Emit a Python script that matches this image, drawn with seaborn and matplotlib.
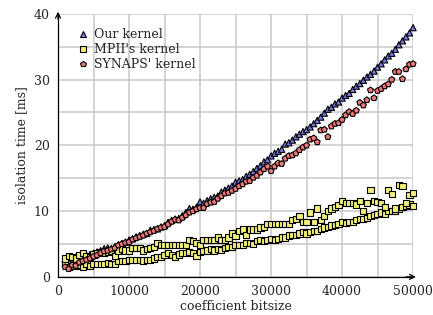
import numpy as np
import pandas as pd
import matplotlib
matplotlib.use("Agg")
import matplotlib.pyplot as plt
import seaborn as sns

# ---------------------- data ----------------------
bitsize = list(range(1000, 50001, 500))

our_kernel = [
    2.7, 2.5, 2.9, 3.0, 3.2, 3.1, 3.3, 3.4, 3.6, 3.8,
    4.0, 4.3, 4.4, 4.3, 4.6, 4.9, 5.1, 5.3, 5.6, 5.8,
    6.1, 6.3, 6.5, 6.6, 7.1, 7.2, 7.3, 7.6, 7.8, 8.3,
    8.6, 8.8, 8.9, 9.3, 9.8, 10.4, 10.3, 10.6, 11.4, 11.2,
    11.6, 11.9, 12.1, 12.3, 12.9, 13.2, 13.5, 13.8, 14.4, 14.6,
    14.8, 15.3, 15.6, 16.0, 16.5, 16.9, 17.5, 17.8, 18.4, 18.8,
    19.1, 19.4, 20.2, 20.4, 20.8, 21.3, 21.7, 22.1, 22.4, 22.8,
    23.3, 23.8, 24.3, 24.9, 25.5, 25.8, 26.3, 26.6, 27.2, 27.6,
    27.9, 28.5, 29.0, 29.4, 29.9, 30.4, 30.8, 31.3, 31.9, 32.4,
    33.0, 33.6, 34.0, 34.6, 35.3, 35.9, 36.5, 37.1, 37.9,
]

synaps_kernel = [
    1.5, 1.2, 1.8, 1.7, 2.2, 2.4, 2.6, 2.8, 3.1, 3.3,
    3.6, 3.9, 4.0, 4.2, 4.4, 4.8, 5.0, 5.2, 5.3, 5.7,
    5.9, 6.1, 6.3, 6.6, 6.8, 7.0, 7.3, 7.5, 7.6, 8.0,
    8.4, 8.7, 8.6, 9.0, 9.4, 9.8, 10.0, 10.3, 10.5, 10.5,
    11.1, 11.3, 11.4, 11.9, 12.3, 12.7, 12.8, 13.1, 13.4, 13.8,
    14.1, 14.5, 14.6, 15.1, 15.4, 15.9, 16.4, 16.8, 16.1, 16.8,
    17.3, 17.2, 18.0, 18.4, 18.5, 18.8, 19.3, 19.7, 20.0, 20.9,
    21.1, 20.5, 22.3, 22.4, 21.3, 22.9, 23.3, 23.4, 23.9, 24.6,
    25.1, 24.8, 25.3, 26.5, 26.1, 26.9, 28.4, 27.2, 28.3, 28.6,
    29.0, 29.3, 30.0, 31.2, 31.2, 30.1, 31.6, 32.3, 32.4,
]

# MPIR shows two interleaved tracks
mpir_low = [
    2.0, 1.5, 1.6, 1.7, 1.8, 1.5, 1.9, 1.6, 2.0, 2.0,
    2.0, 2.0, 2.1, 2.0, 2.0, 2.4, 2.4, 2.4, 2.6, 2.6,
    2.6, 2.6, 2.5, 2.6, 2.6, 2.8, 3.0, 3.0, 3.3, 3.6,
    3.3, 3.0, 3.4, 3.6, 3.6, 3.8, 3.6, 3.2, 3.8, 4.0,
    4.0, 4.2, 4.0, 4.3, 4.1, 4.4, 4.5, 4.6, 4.8, 4.8,
    4.9, 5.2, 5.1, 5.0, 5.4, 5.6, 5.4, 5.6, 5.8, 5.6,
    5.8, 6.0, 6.0, 6.3, 6.4, 6.4, 6.6, 6.8, 6.6, 6.8,
    7.0, 7.0, 7.3, 7.5, 7.6, 7.8, 7.9, 8.0, 8.3, 8.2,
    8.4, 8.4, 8.6, 8.8, 8.8, 9.0, 9.2, 9.4, 9.6, 9.8,
    9.6, 10.0, 10.0, 10.1, 10.4, 10.6, 10.8, 11.0, 10.8,
]

mpir_high = [
    2.8, 3.2, 3.0, 2.8, 3.3, 3.6, 3.2, 3.0, 3.4, 3.6,
    3.8, 3.7, 3.8, 3.9, 3.2, 4.0, 4.2, 4.0, 4.0, 4.4,
    4.4, 4.4, 4.0, 4.2, 4.4, 4.6, 5.2, 4.8, 4.8, 4.8,
    4.8, 4.8, 4.8, 4.8, 4.8, 5.6, 5.4, 5.2, 4.8, 5.6,
    5.6, 5.6, 5.6, 6.0, 5.6, 5.6, 6.0, 6.6, 6.2, 7.0,
    7.2, 6.4, 7.2, 7.2, 7.2, 7.5, 7.6, 8.0, 8.0, 8.0,
    8.0, 8.0, 8.0, 8.0, 8.6, 8.8, 9.2, 8.4, 8.4, 9.8,
    8.4, 10.4, 8.6, 9.2, 10.0, 10.4, 10.6, 10.9, 11.6, 11.2,
    11.2, 11.2, 11.0, 11.6, 10.0, 11.2, 13.2, 11.6, 11.4, 11.2,
    10.6, 13.2, 12.6, 10.4, 14.0, 13.8, 11.2, 12.4, 12.8,
]

labels = ["Our kernel", "MPII's kernel", "SYNAPS' kernel"]

df = pd.concat([
    pd.DataFrame({"bitsize": bitsize, "time": our_kernel, "kernel": labels[0]}),
    pd.DataFrame({"bitsize": bitsize + bitsize, "time": mpir_low + mpir_high, "kernel": labels[1]}),
    pd.DataFrame({"bitsize": bitsize, "time": synaps_kernel, "kernel": labels[2]}),
], ignore_index=True)

# ---------------------- plot ----------------------
sns.set_style("white")
plt.rcParams["font.family"] = ["DejaVu Serif"]

fig = plt.figure(figsize=(4.33, 3.15), dpi=100)
ax = fig.add_axes([0.134, 0.121, 0.82, 0.835])

palette = {labels[0]: "#7a7ae6", labels[1]: "#f2f07a", labels[2]: "#f07878"}
markers = {labels[0]: "^", labels[1]: "s", labels[2]: "p"}

sns.scatterplot(data=df, x="bitsize", y="time", hue="kernel", style="kernel",
                palette=palette, markers=markers, s=20, edgecolor="black",
                linewidth=0.8, ax=ax, zorder=3, clip_on=False)

ax.set_xlim(0, 50000)
ax.set_ylim(0, 40)
ax.set_xticks([0, 10000, 20000, 30000, 40000, 50000])
ax.set_yticks([0, 10, 20, 30, 40])
ax.set_xticks(np.arange(5000, 50000, 10000), minor=True)
ax.set_yticks([5, 15, 25, 35], minor=True)
ax.grid(True, which="both", color="#c8c8c8", linewidth=1.1)
ax.tick_params(which="both", length=0, labelsize=9, pad=6)

for side in ["top", "right"]:
    ax.spines[side].set_visible(False)
for side in ["left", "bottom"]:
    ax.spines[side].set_color("black")
    ax.spines[side].set_linewidth(0.9)

# arrow heads at the end of the axes
ax.annotate("", xy=(1.008, 0), xytext=(0.98, 0), xycoords="axes fraction",
            arrowprops=dict(arrowstyle="->", color="black", lw=0.9,
                            mutation_scale=9, shrinkA=0, shrinkB=0))
ax.annotate("", xy=(0, 1.008), xytext=(0, 0.98), xycoords="axes fraction",
            arrowprops=dict(arrowstyle="->", color="black", lw=0.9,
                            mutation_scale=9, shrinkA=0, shrinkB=0))

ax.set_xlabel("coefficient bitsize", fontsize=9, labelpad=1)
ax.set_ylabel("isolation time [ms]", fontsize=9, labelpad=4)

leg = ax.legend(loc="upper left", frameon=False, fontsize=9, handletextpad=0.5,
                borderaxespad=0.2, labelspacing=0.18, handlelength=0.8,
                bbox_to_anchor=(0.035, 0.975))
for h in leg.legend_handles:
    h.set_markersize(4)

fig.savefig("out.png", dpi=100)
